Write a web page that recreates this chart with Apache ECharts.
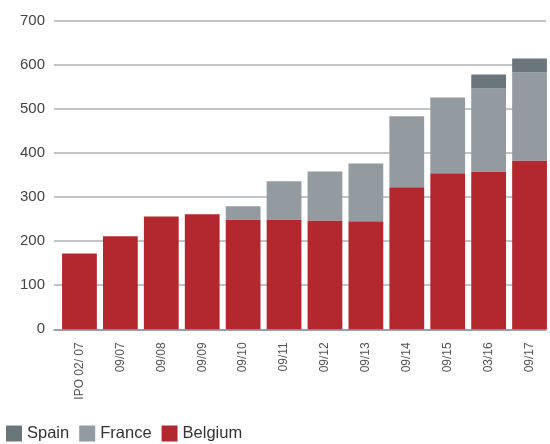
<!DOCTYPE html>
<html><head><meta charset="utf-8">
<script src="https://cdn.jsdelivr.net/npm/echarts@6/dist/echarts.min.js"></script>
<style>html,body{margin:0;padding:0;background:#fff}#c{width:550px;height:444px}</style>
</head><body><div id="c"></div>
<script>
var categories = ['IPO 02/ 07','09/07','09/08','09/09','09/10','09/11','09/12','09/13','09/14','09/15','03/16','09/17'];
var belgium = [172, 211, 256, 261, 249, 249, 247, 245, 322, 354, 358, 383];
var france  = [0, 0, 0, 0, 30, 87, 111, 131, 161, 172, 188, 200];
var spain   = [0, 0, 0, 0, 0, 0, 0, 0, 0, 0, 32, 31];
var yTicks = [0, 100, 200, 300, 400, 500, 600, 700];

var chart = echarts.init(document.getElementById('c'));
var font = 'Liberation Sans, Arial, sans-serif';
var yMin = yTicks[0], yMax = yTicks[yTicks.length-1];
chart.setOption({
  animation: false,
  grid: [
    {left: 54, right: 4, top: 20.7, bottom: 114.7},
    {left: 59, right: -1, top: 20.7, bottom: 114.7}
  ],
  legend: {
    data: ['Spain','France','Belgium'],
    left: 1, top: 420,
    itemWidth: 16, itemHeight: 16, itemGap: 10,
    icon: 'rect',
    textStyle: {fontFamily: font, fontSize: 16.5, color: '#333'}
  },
  xAxis: [
    {gridIndex: 0, type: 'category', data: categories, show: true,
     axisLine: {show: true, lineStyle: {color: '#8E9499', width: 1.5}},
     axisTick: {show: false}, axisLabel: {show: false}},
    {gridIndex: 1, type: 'category', data: categories,
     axisLine: {show: false},
     axisTick: {show: false},
     axisLabel: {rotate: 90, margin: 13, fontFamily: font, fontSize: 12, color: '#555', interval: 0}}
  ],
  yAxis: [
    {gridIndex: 0, type: 'value', min: yMin, max: yMax, interval: 100,
     axisLine: {show: false}, axisTick: {show: false},
     axisLabel: {margin: 9, fontFamily: font, fontSize: 15, color: '#444'},
     splitLine: {lineStyle: {color: '#AEB2B5', width: 1.5}}},
    {gridIndex: 1, type: 'value', min: yMin, max: yMax, interval: 100, show: false,
     splitLine: {show: false}}
  ],
  series: [
    {name: 'Belgium', type: 'bar', stack: 't', xAxisIndex: 1, yAxisIndex: 1, data: belgium, barCategoryGap: '15%', itemStyle: {color: '#B3282E'}},
    {name: 'France', type: 'bar', stack: 't', xAxisIndex: 1, yAxisIndex: 1, data: france, itemStyle: {color: '#939AA0'}},
    {name: 'Spain', type: 'bar', stack: 't', xAxisIndex: 1, yAxisIndex: 1, data: spain, itemStyle: {color: '#6B767C'}}
  ]
});
</script></body></html>
